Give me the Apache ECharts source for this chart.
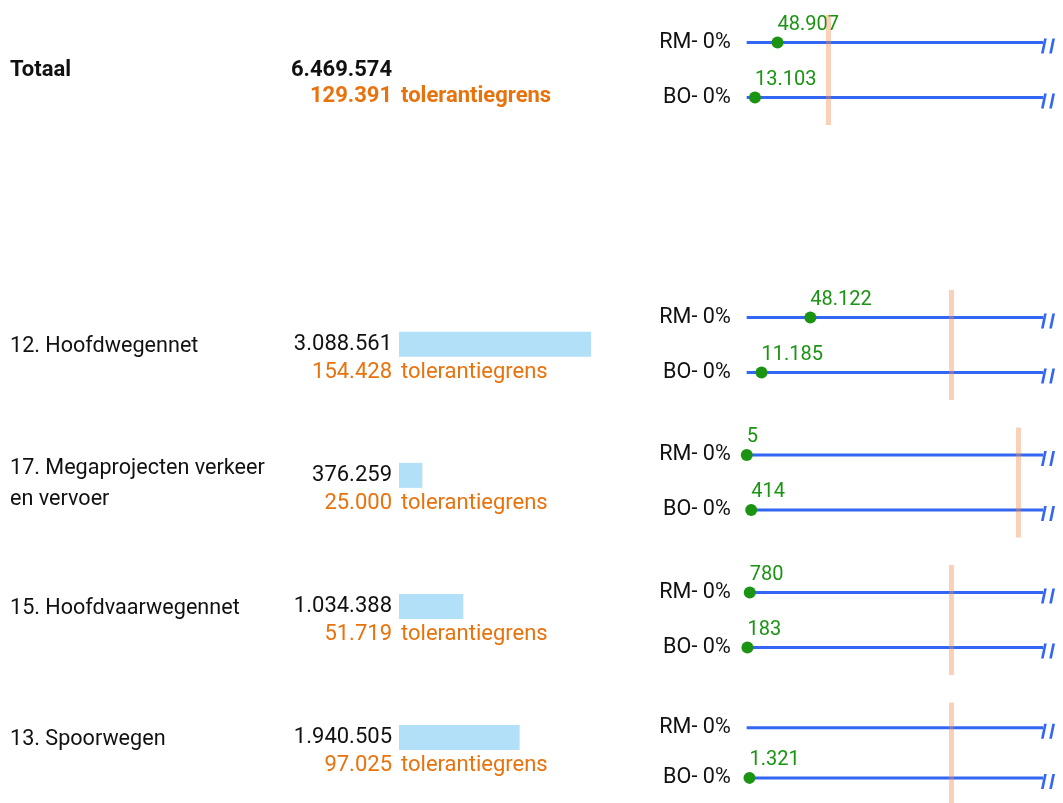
<!DOCTYPE html>
<html><head><meta charset="utf-8">
<script src="https://cdn.jsdelivr.net/npm/echarts@6/dist/echarts.min.js"></script>
<style>html,body{margin:0;padding:0;background:#fff}#c{width:1063px;height:803px}</style>
</head><body><div id="c"></div>
<script>
// ---- data ----
const totalLabel = 'Totaal';
const totalBudget = 6469574;
const totalTolerance = 129391;
const totalRm = 48907;
const totalBo = 13103;
const totalRmPct = 0;
const totalBoPct = 0;
const totalScaleMax = 470000;

const categories = ['12. Hoofdwegennet', '17. Megaprojecten verkeer en vervoer', '15. Hoofdvaarwegennet', '13. Spoorwegen'];
const budget = [3088561, 376259, 1034388, 1940505];
const tolerance = [154428, 25000, 51719, 97025];
const rmValues = [48122, 5, 780, null];
const boValues = [11185, 414, 183, 1321];
const rmPct = [0, 0, 0, 0];
const boPct = [0, 0, 0, 0];
const scaleMax = [224000, 27300, 75000, 140800];
const rowKeys = ['RM', 'BO'];
const tolText = 'tolerantiegrens';

// ---- style ----
const FONT = 'Roboto';
const FS = 22;
const FS_NAME = 21.6;
const FS_GREEN = 20;
const C_TEXT = '#111111', C_ORANGE = '#e8720c', C_BLUE = '#3366f2', C_GREEN = '#1a9412';
const C_TOL = 'rgba(240,140,80,0.4)', C_BAR = '#b1e0f8';
const fmt = v => String(v).replace(/\B(?=(\d{3})+(?!\d))/g, '.');
// wrap long names at word boundaries (max characters per line)
const wrap = (s, n) => s.split(' ').reduce((lines, w) => {
  const last = lines[lines.length - 1];
  if (last && (last + ' ' + w).length <= n) lines[lines.length - 1] = last + ' ' + w; else lines.push(w);
  return lines;
}, []).join('\n');

const BAND = 137.5;
const TOTAL_CENTER_L = 71, ROW0_CENTER_L = 347.5;   // left block
const TOTAL_CENTER_P = 70, ROW0_CENTER_P = 345;     // panels
const BAR_LEFT = 399, BAR_W = 192;
const LABEL_X = 10;
const P_LEFT = 746.7, P_W = 296.3;

const grid = [], xAxis = [], yAxis = [], series = [];
const hideAxis = {axisLine: {show: false}, axisTick: {show: false}, splitLine: {show: false}};

grid.push({left: BAR_LEFT, width: BAR_W, top: TOTAL_CENTER_L - BAND / 2, height: BAND});
grid.push({left: BAR_LEFT, width: BAR_W, top: ROW0_CENTER_L - BAND / 2, height: BAND * categories.length});
const barMax = Math.max(...budget);
for (let g = 0; g < 2; g++) xAxis.push({gridIndex: g, type: 'value', min: 0, max: barMax, show: false});
yAxis.push(Object.assign({gridIndex: 0, type: 'category', data: [totalLabel], inverse: true, axisLabel: {show: false}}, hideAxis));
yAxis.push(Object.assign({gridIndex: 1, type: 'category', data: categories, inverse: true, axisLabel: {show: false}}, hideAxis));

series.push({type: 'bar', xAxisIndex: 1, yAxisIndex: 1, data: budget, barWidth: 25, silent: true,
  itemStyle: {color: C_BAR}});

function textSeries(gi, names, vals, tols, bold) {
  const w = bold ? 'bold' : 'normal';
  const base = {type: 'scatter', xAxisIndex: gi, yAxisIndex: gi, symbolSize: 0, silent: true, clip: false,
    data: vals.map((v, i) => [0, i]), itemStyle: {opacity: 1}};
  const names2 = names.map(n => wrap(n, 25));
  series.push(Object.assign({}, base, {
    data: names2.map((n, i) => ({value: [0, i], label: n.indexOf('\n') >= 0 ? {offset: [0, 9]} : {}})),
    label: {show: true, position: [LABEL_X - BAR_LEFT, 0], align: 'left', verticalAlign: 'middle',
      lineHeight: 31, offset: [0, bold ? -1 : 2],
      formatter: p => names2[p.dataIndex], fontFamily: FONT, fontSize: bold ? FS : FS_NAME, fontWeight: w, color: C_TEXT}}));
  series.push(Object.assign({}, base, {label: {show: true, position: 'left', distance: 7, offset: [0, bold ? -1 : 0],
    formatter: p => fmt(vals[p.dataIndex]), fontFamily: FONT, fontSize: FS, fontWeight: w, color: C_TEXT}}));
  series.push(Object.assign({}, base, {label: {show: true, position: 'left', distance: 7, offset: [0, bold ? 25 : 28],
    formatter: p => fmt(tols[p.dataIndex]), fontFamily: FONT, fontSize: FS, fontWeight: w, color: C_ORANGE}}));
  series.push(Object.assign({}, base, {label: {show: true, position: 'right', distance: 2, offset: [0, bold ? 25 : 28],
    formatter: () => tolText, fontFamily: FONT, fontSize: FS, fontWeight: w, color: C_ORANGE}}));
}
textSeries(0, [totalLabel], [totalBudget], [totalTolerance], true);
textSeries(1, categories, budget, tolerance, false);

const panels = [{center: TOTAL_CENTER_P, max: totalScaleMax, tol: totalTolerance, rm: totalRm, bo: totalBo, pct: [totalRmPct, totalBoPct]}];
categories.forEach((c, i) => panels.push({center: ROW0_CENTER_P + i * BAND, max: scaleMax[i], tol: tolerance[i],
  rm: rmValues[i], bo: boValues[i], pct: [rmPct[i], boPct[i]]}));

const breakPath = 'path://M3,0 L5.6,0 L2.6,16 L0,16 Z M11,0 L13.6,0 L10.6,16 L8,16 Z';

panels.forEach((p, k) => {
  const gi = 2 + k;
  grid.push({left: P_LEFT, width: P_W, top: p.center - 55, height: 110});
  xAxis.push({gridIndex: gi, type: 'value', min: 0, max: p.max, show: false});
  yAxis.push(Object.assign({gridIndex: gi, type: 'category', data: rowKeys, inverse: true,
    axisLabel: {margin: 16, fontFamily: FONT, fontSize: FS_NAME, color: C_TEXT,
      formatter: (v, i) => v + '- ' + p.pct[i] + '%'}}, hideAxis));
  rowKeys.forEach((r, ri) => {
    const s = {type: 'line', xAxisIndex: gi, yAxisIndex: gi, data: [[0, r], [p.max, r]], symbol: 'none', silent: true,
      lineStyle: {color: C_BLUE, width: 3}, z: 2};
    if (ri === 0) s.markLine = {silent: true, symbol: ['none', 'none'], label: {show: false}, z: 5,
      lineStyle: {color: C_TOL, width: 5, type: 'solid'}, data: [{xAxis: p.tol}]};
    series.push(s);
  });
  series.push({type: 'scatter', xAxisIndex: gi, yAxisIndex: gi, silent: true, clip: false,
    data: rowKeys.map(r => [p.max, r]), symbol: breakPath, symbolSize: [14, 15], symbolOffset: [5, 3.5],
    itemStyle: {color: C_BLUE, opacity: 1}, z: 3});
  const dots = [];
  if (p.rm != null) dots.push([p.rm, 'RM']);
  if (p.bo != null) dots.push([p.bo, 'BO']);
  series.push({type: 'scatter', xAxisIndex: gi, yAxisIndex: gi, silent: true, clip: false, data: dots,
    symbolSize: 12, itemStyle: {color: C_GREEN, opacity: 1}, z: 4,
    label: {show: true, position: 'top', align: 'left', distance: 2, formatter: q => fmt(q.value[0]),
      fontFamily: FONT, fontSize: FS_GREEN, color: C_GREEN}});
});

const chart = echarts.init(document.getElementById('c'));
chart.setOption({animation: false, backgroundColor: '#fff', grid, xAxis, yAxis, series});
</script></body></html>
